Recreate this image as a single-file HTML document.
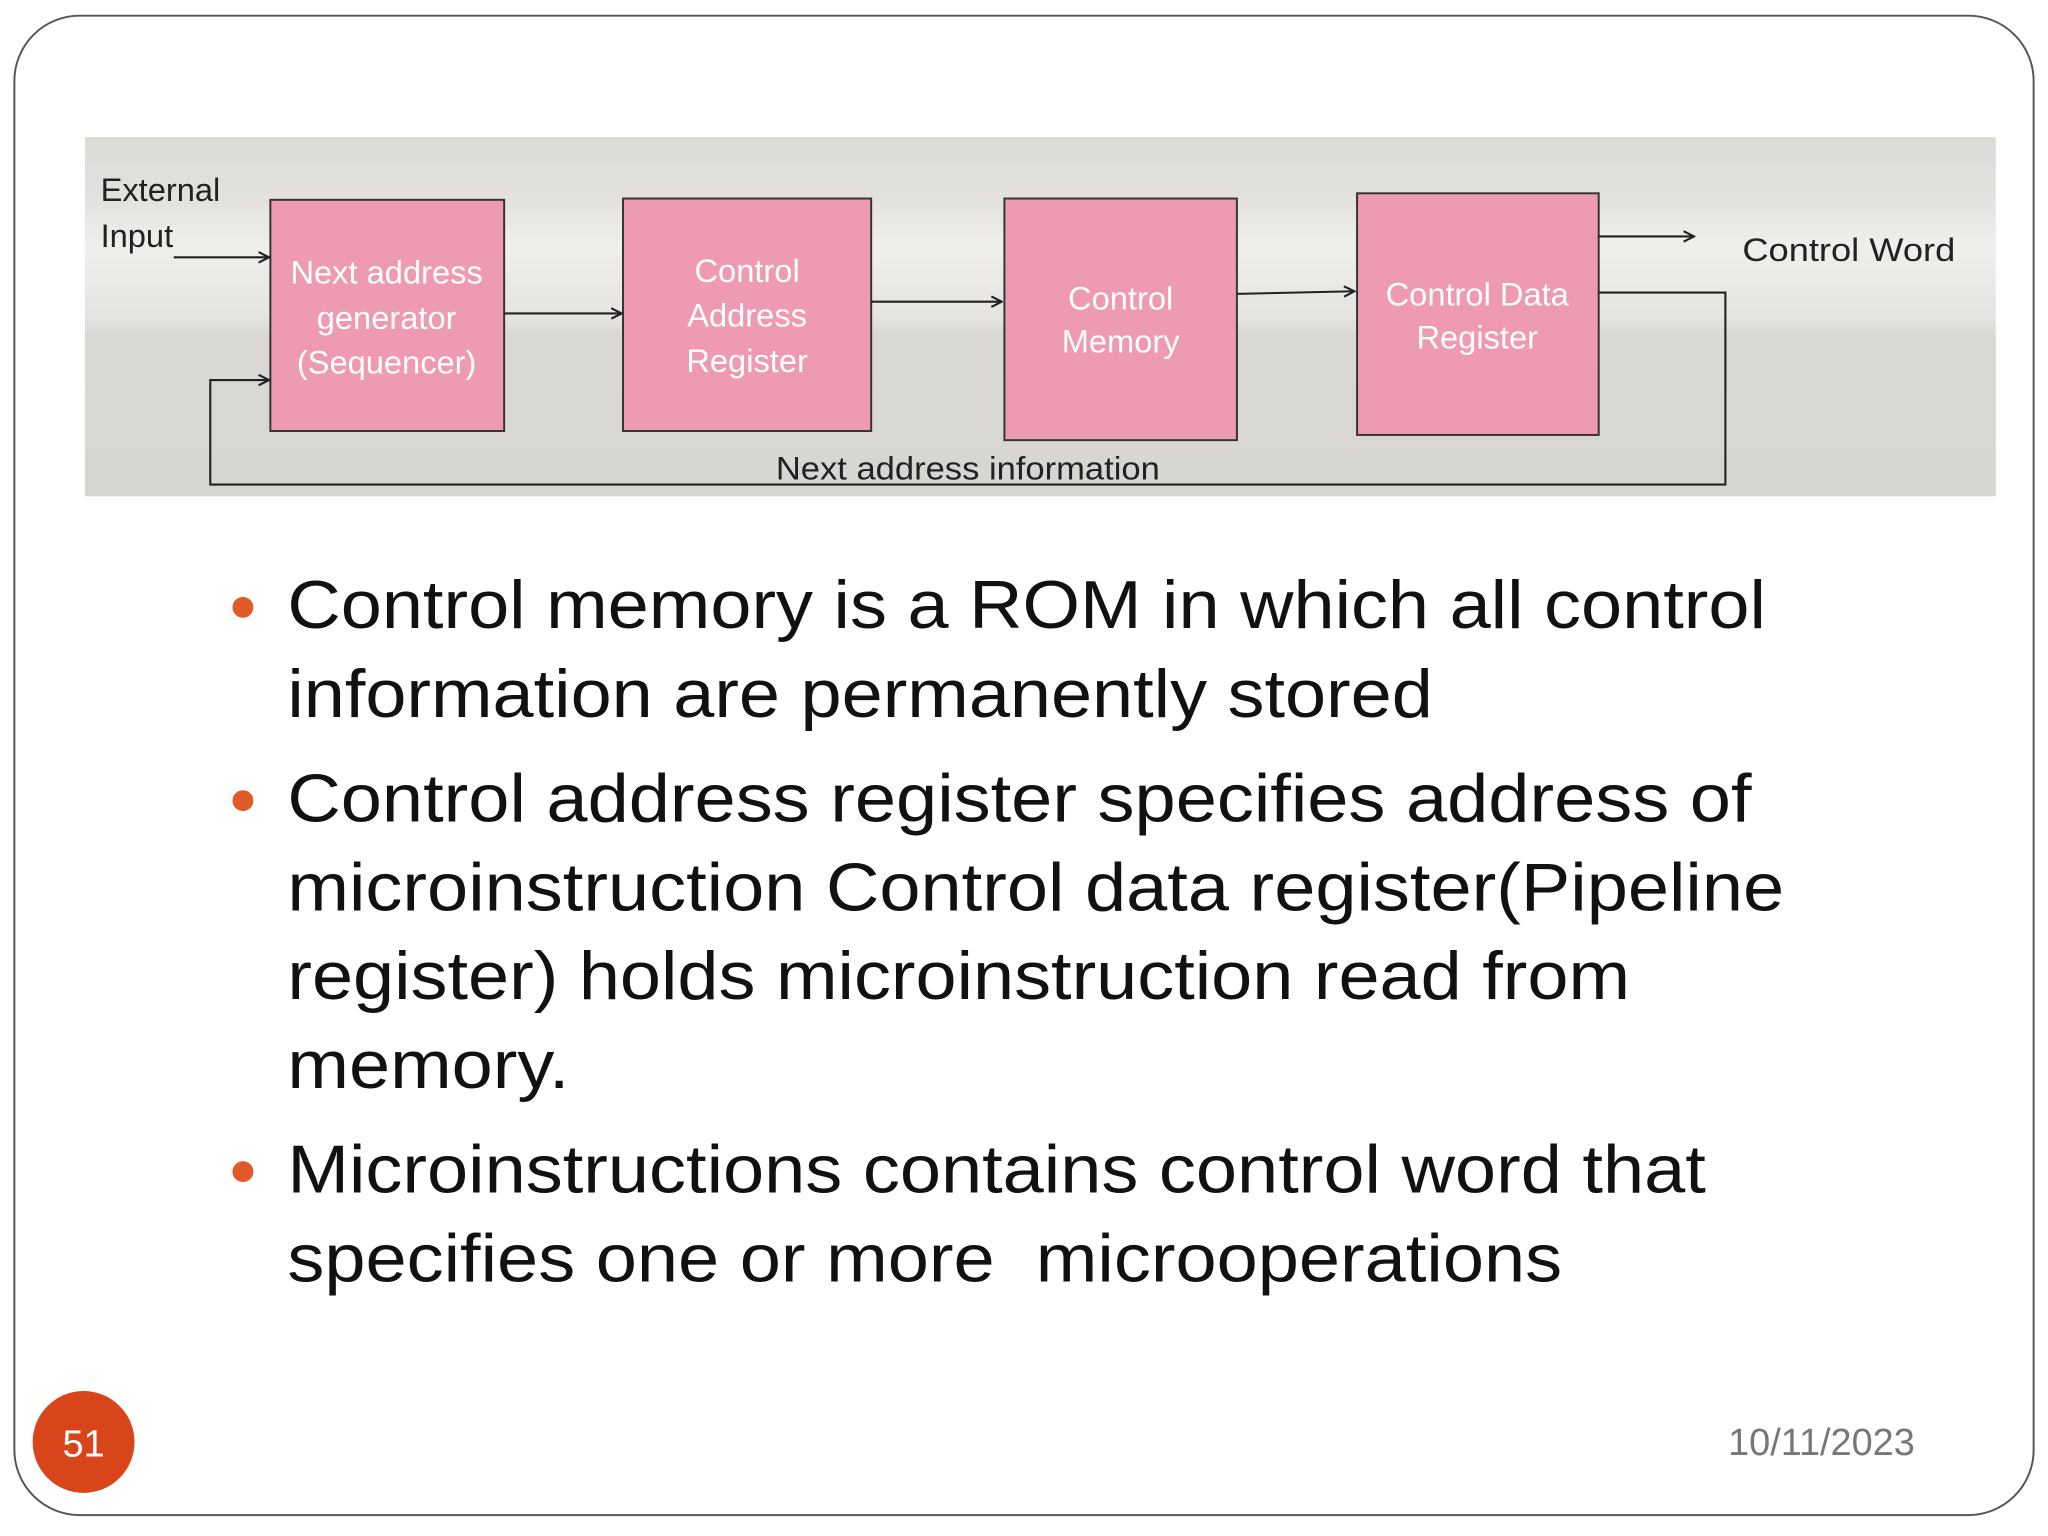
<!DOCTYPE html>
<html><head><meta charset="utf-8"><style>html,body{margin:0;padding:0;background:#fff}svg{display:block}</style></head>
<body>
<svg width="2048" height="1536" viewBox="0 0 1568 1176" xmlns="http://www.w3.org/2000/svg" font-family="Liberation Sans, sans-serif">
<defs>
<linearGradient id="bg" x1="0" y1="0" x2="0" y2="1">
<stop offset="0" stop-color="#dcdad6"/><stop offset="0.18" stop-color="#e4e2de"/><stop offset="0.3" stop-color="#efefec"/><stop offset="0.5" stop-color="#e6e4e0"/><stop offset="0.55" stop-color="#dad8d4"/><stop offset="1" stop-color="#d8d6d2"/>
</linearGradient>
<marker id="ah" markerWidth="10" markerHeight="10" refX="9" refY="5" orient="auto" markerUnits="userSpaceOnUse"><path d="M1,1 L9,5 L1,9" fill="none" stroke="#222" stroke-width="1.6"/></marker>
</defs>
<rect x="0" y="0" width="1568" height="1176" fill="#fff"/>
<rect x="11" y="12" width="1546" height="1148" rx="50" fill="none" stroke="#555" stroke-width="1.5"/>
<rect x="65" y="105" width="1463" height="275" fill="url(#bg)"/>
<g stroke="#333" stroke-width="1.5" fill="#ee9ab2">
<rect x="207" y="153" width="179" height="177"/>
<rect x="477" y="152" width="190" height="178"/>
<rect x="769" y="152" width="178" height="185"/>
<rect x="1039" y="148" width="185" height="185"/>
</g>
<g stroke="#222" stroke-width="1.6" fill="none">
<line x1="133" y1="197" x2="206" y2="197" marker-end="url(#ah)"/>
<line x1="386" y1="240" x2="476" y2="240" marker-end="url(#ah)"/>
<line x1="667" y1="231" x2="767" y2="231" marker-end="url(#ah)"/>
<line x1="947" y1="225" x2="1037" y2="223" marker-end="url(#ah)"/>
<line x1="1224" y1="181" x2="1297" y2="181" marker-end="url(#ah)"/>
<polyline points="1224,224 1321,224 1321,371 161,371 161,291 206,291" marker-end="url(#ah)"/>
</g>
<g fill="#fff" font-size="25" text-anchor="middle">
<text x="296" y="217">Next address</text><text x="296" y="252">generator</text><text x="296" y="286">(Sequencer)</text>
<text x="572" y="216">Control</text><text x="572" y="250">Address</text><text x="572" y="285">Register</text>
<text x="858" y="237">Control</text><text x="858" y="270">Memory</text>
<text x="1131" y="234">Control Data</text><text x="1131" y="267">Register</text>
</g>
<g fill="#222" font-size="25">
<text x="77" y="154">External</text><text x="77" y="189">Input</text>
<text x="1334" y="200" textLength="163" lengthAdjust="spacingAndGlyphs">Control Word</text>
<text x="594" y="367" textLength="294" lengthAdjust="spacingAndGlyphs">Next address information</text>
</g>
<g fill="#e05a2a"><circle cx="186" cy="465" r="8"/><circle cx="186" cy="613" r="8"/><circle cx="186" cy="897" r="8"/></g>
<g fill="#111" font-size="52" lengthAdjust="spacingAndGlyphs">
<text x="220" y="481" textLength="1132" lengthAdjust="spacingAndGlyphs">Control memory is a ROM in which all control</text>
<text x="220" y="549" textLength="877" lengthAdjust="spacingAndGlyphs">information are permanently stored</text>
<text x="220" y="629" textLength="1121" lengthAdjust="spacingAndGlyphs">Control address register specifies address of</text>
<text x="220" y="697" textLength="1146" lengthAdjust="spacingAndGlyphs">microinstruction Control data register(Pipeline</text>
<text x="220" y="765" textLength="1028" lengthAdjust="spacingAndGlyphs">register) holds microinstruction read from</text>
<text x="220" y="833" textLength="216" lengthAdjust="spacingAndGlyphs">memory.</text>
<text x="220" y="913" textLength="1086" lengthAdjust="spacingAndGlyphs">Microinstructions contains control word that</text>
<text x="220" y="981" textLength="976" lengthAdjust="spacingAndGlyphs" xml:space="preserve">specifies one or more  microoperations</text>
</g>
<circle cx="64" cy="1104" r="39" fill="#d9451a"/>
<text x="64" y="1115" fill="#fff" font-size="29" text-anchor="middle">51</text>
<text x="1466" y="1114" fill="#777" font-size="29" text-anchor="end">10/11/2023</text>
</svg>
</body></html>
